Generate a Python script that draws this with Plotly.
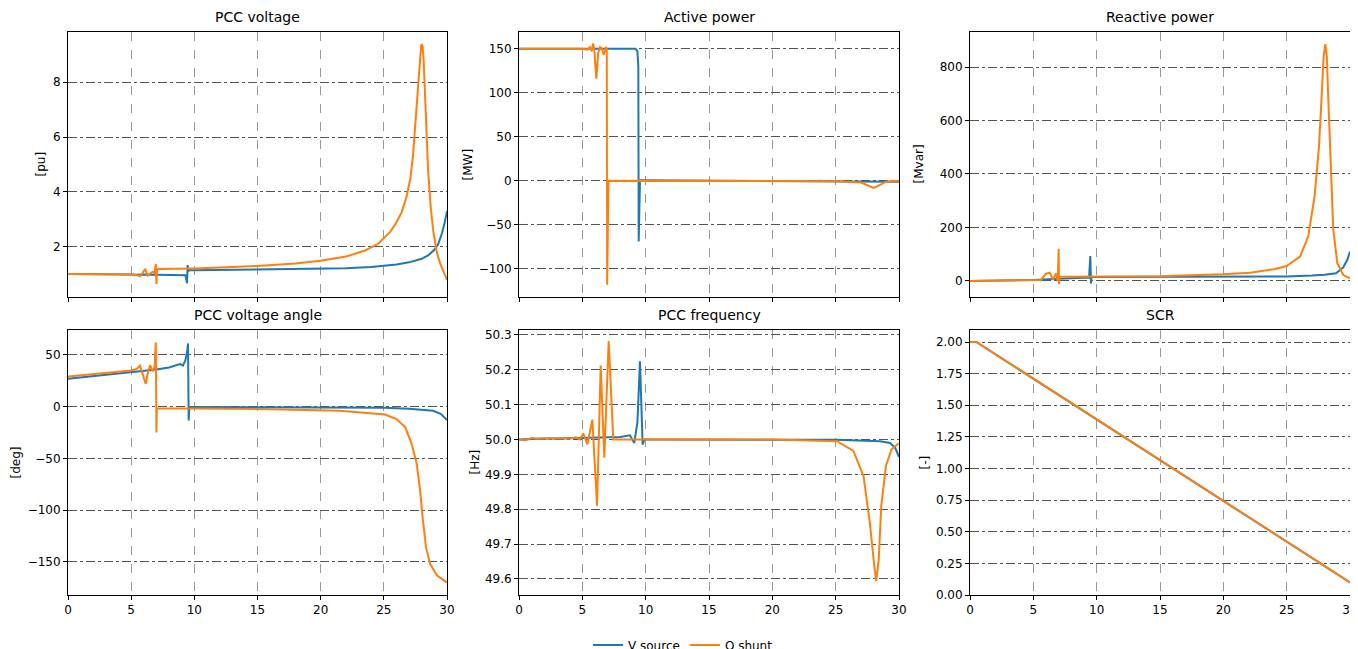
import plotly.graph_objects as go
from plotly.subplots import make_subplots

# ---------------- data ----------------
# PCC voltage [pu]
v_t_vs = [0, 2, 4, 5, 5.5, 6, 7, 8, 9, 9.3, 9.42, 9.47, 9.52, 9.6, 10, 12, 15, 18, 20, 22, 24, 25, 26, 27, 28, 28.5, 29, 29.3, 29.6, 29.8, 30]
v_vs = [1.02, 1.02, 1.01, 1.0, 0.99, 1.0, 0.99, 0.99, 0.98, 0.97, 0.68, 1.34, 1.12, 1.15, 1.15, 1.16, 1.18, 1.2, 1.21, 1.23, 1.27, 1.31, 1.36, 1.44, 1.57, 1.69, 1.9, 2.1, 2.5, 2.85, 3.3]
v_t_qs = [0, 2, 4, 5, 5.5, 5.7, 5.9, 6.1, 6.3, 6.5, 6.7, 6.85, 6.95, 7.0, 7.05, 7.2, 8, 10, 12, 15, 18, 20, 22, 23.5, 24.5, 25, 25.5, 26.0, 26.4, 26.8, 27.1, 27.3, 27.5, 27.7, 27.85, 27.95, 28.0, 28.07, 28.15, 28.27, 28.4, 28.5, 28.7, 28.9, 29.2, 29.45, 30]
v_qs = [1.02, 1.02, 1.01, 1.0, 0.97, 0.93, 1.05, 1.2, 0.96, 1.02, 1.1, 1.05, 1.38, 0.65, 1.18, 1.2, 1.2, 1.22, 1.25, 1.31, 1.4, 1.5, 1.65, 1.87, 2.1, 2.33, 2.55, 2.9, 3.25, 3.83, 4.5, 5.28, 6.5, 8.07, 8.95, 9.3, 9.38, 9.3, 8.8, 7.46, 6.0, 4.8, 3.5, 2.62, 1.8, 1.41, 0.8]

# Active power [MW]
p_t_vs = [0, 5, 9.2, 9.35, 9.42, 9.45, 9.5, 9.55, 9.6, 12, 20, 25, 28, 30]
p_vs = [150, 150, 150, 147, 130, -69, -10, 0, 0.5, 0.3, 0, 0, -0.5, -1]
p_t_qs = [0, 5, 5.4, 5.6, 5.75, 5.85, 5.95, 6.1, 6.25, 6.4, 6.55, 6.7, 6.85, 6.93, 6.96, 7.0, 7.03, 7.06, 7.1, 10, 20, 25, 27, 27.7, 28.0, 28.3, 29, 30]
p_qs = [150, 150, 149, 152, 147, 156, 148, 116, 145, 152, 150, 143, 152, 150, -118, -40, -33, 0, 0, 0, 0, -0.5, -2, -6, -8, -6, -1, 0]

# Reactive power [Mvar]
q_t_vs = [0, 3, 5, 7, 9, 9.4, 9.5, 9.55, 9.6, 10, 15, 20, 25, 27, 28, 28.9, 29.47, 29.8, 30]
q_vs = [0, 1, 4, 8, 12, 13, 93, -9, 15, 15, 16, 16, 17, 20, 23, 29, 51, 80, 110]
q_t_qs = [0, 3, 5, 5.6, 6.0, 6.3, 6.55, 6.8, 6.93, 7.0, 7.03, 7.08, 7.2, 10, 15, 20, 22.1, 24, 25, 26.05, 26.7, 27.2, 27.55, 27.76, 27.92, 28.05, 28.17, 28.28, 28.47, 28.68, 29.0, 29.47, 30]
q_qs = [0, 1, 4, 4, 27, 31, 5, 28, 0, 120, -12, 15, 16, 16, 18, 25, 31, 44, 56, 91, 166, 315, 502, 689, 840, 886, 840, 689, 440, 191, 66, 22, 10]

# PCC voltage angle [deg]
a_t_vs = [0, 2, 4, 5, 6, 7, 8, 8.87, 9.1, 9.3, 9.45, 9.5, 9.55, 9.6, 10, 15, 20, 25, 27, 28, 28.9, 29.5, 30]
a_vs = [26.8, 29.2, 31.6, 33, 34.3, 35.8, 37.8, 41, 39.6, 45, 55, 61, -13.5, -0.5, -0.5, -0.6, -0.7, -1, -2, -3, -4, -7, -13]
a_t_qs = [0, 2, 4, 5, 5.4, 5.7, 5.95, 6.15, 6.35, 6.5, 6.7, 6.85, 6.95, 7.0, 7.03, 7.08, 8, 10, 15, 20, 21.5, 25.1, 26.0, 26.7, 27.2, 27.6, 27.87, 28.07, 28.34, 28.66, 29.2, 30]
a_qs = [29, 31, 33.6, 34.8, 36, 39.6, 30, 22, 34, 40, 34, 38, 62, -25, -2, -1.5, -1.5, -1.8, -2.3, -3, -3.9, -7.7, -12, -20, -36, -55, -81, -107, -136, -152, -163, -170]

# PCC frequency [Hz]
f_t_vs = [0, 1, 2, 3, 4, 5, 6, 7, 8, 8.76, 9.1, 9.35, 9.55, 9.76, 9.9, 12, 20, 25, 28.5, 29.3, 29.7, 30]
f_vs = [50.0, 50.002, 50.003, 50.003, 50.004, 50.006, 50.007, 50.007, 50.007, 50.012, 49.99, 50.05, 50.224, 49.985, 50.0, 50.0, 50.0, 49.999, 49.995, 49.99, 49.976, 49.95]
f_t_qs = [0, 0.5, 1, 1.5, 2, 3, 4, 4.5, 4.8, 5.08, 5.4, 5.79, 6.16, 6.45, 6.73, 7.08, 7.44, 8, 10, 20, 25.1, 26.4, 27.2, 27.7, 28.05, 28.2, 28.4, 28.6, 28.97, 29.4, 29.97]
f_qs = [50.0, 49.998, 50.004, 50.002, 50.003, 50.004, 50.003, 50.006, 50.0, 50.017, 49.986, 50.057, 49.81, 50.212, 49.948, 50.282, 50.0, 50.0, 50.0, 50.0, 49.995, 49.967, 49.895, 49.76, 49.637, 49.594, 49.656, 49.81, 49.924, 49.971, 49.989]

# SCR [-]
s_t = [0, 0.5, 30]
s_vs = [2.0, 2.0, 0.1]
s_qs = [2.0, 2.0, 0.1]

titles = ["PCC voltage", "Active power", "Reactive power", "PCC voltage angle", "PCC frequency", "SCR"]
ylabels = ["[pu]", "[MW]", "[Mvar]", "[deg]", "[Hz]", "[-]"]
series_names = ["V source", "Q shunt"]

# ---------------- figure ----------------
BLUE = "#1f77b4"
ORANGE = "#ff7f0e"
OFF = 8  # page body margin
W, H = 1358 - OFF, 649 - OFF
FONT = "DejaVu Sans"

fig = make_subplots(rows=2, cols=3)

panels = [
    (1, 1, v_t_vs, v_vs, v_t_qs, v_qs),
    (1, 2, p_t_vs, p_vs, p_t_qs, p_qs),
    (1, 3, q_t_vs, q_vs, q_t_qs, q_qs),
    (2, 1, a_t_vs, a_vs, a_t_qs, a_qs),
    (2, 2, f_t_vs, f_vs, f_t_qs, f_qs),
    (2, 3, s_t, s_vs, s_t, s_qs),
]
for i, (r, c, tb, yb, to, yo) in enumerate(panels):
    fig.add_trace(go.Scatter(x=tb, y=yb, mode="lines", line=dict(color=BLUE, width=2),
                             name=series_names[0], legendgroup="a", showlegend=(i == 0)), row=r, col=c)
    fig.add_trace(go.Scatter(x=to, y=yo, mode="lines", line=dict(color=ORANGE, width=2),
                             name=series_names[1], legendgroup="b", showlegend=(i == 0)), row=r, col=c)

# pixel boxes in window coordinates
xpx = [(68, 447), (519, 899), (970, 1350)]
ypx = [(32, 297), (330, 595)]
yranges = [[0.18, 9.82], [-132, 169], [-60, 931], [-182, 74], [49.554, 50.314], [0.0, 2.095]]
ydticks = [2, 50, 200, 50, 0.1, 0.25]
ytick0 = [0, 0, 0, 0, 49.6, 0.25]
yfmts = ["", "", "", "", ".1f", ".2f"]
ylabel_x = [40, 467, 918, 15, 474, 924]


def px_x(p):
    return (p - OFF) / W


def px_y(p):
    return 1 - (p - OFF) / H


annotations = []
for k in range(6):
    r, c = k // 3, k % 3
    axn = "" if k == 0 else str(k + 1)
    x0, x1 = xpx[c]
    y0, y1 = ypx[r]
    fig.layout["xaxis" + axn].update(
        domain=[px_x(x0), px_x(x1)], range=[0, 30], dtick=5, tick0=0,
        showline=True, mirror=True, linecolor="black", linewidth=1,
        ticks="outside", ticklen=4, tickcolor="black", ticklabeloverflow="allow",
        showticklabels=(r == 1), tickfont=dict(family=FONT, size=12, color="black"),
        showgrid=True, gridcolor="#999999", griddash="dash", gridwidth=1, zeroline=False)
    fig.layout["yaxis" + axn].update(
        domain=[px_y(y1), px_y(y0)], range=yranges[k], dtick=ydticks[k], tick0=ytick0[k],
        tickformat=yfmts[k],
        showline=True, mirror=True, linecolor="black", linewidth=1,
        ticks="outside", ticklen=4, tickcolor="black",
        tickfont=dict(family=FONT, size=12, color="black"),
        showgrid=True, gridcolor="#555555", griddash="dashdot", gridwidth=0.8, zeroline=False)
    annotations.append(dict(text=titles[k], x=(px_x(x0) + px_x(x1)) / 2, y=px_y(y0 - 5),
                            xref="paper", yref="paper", xanchor="center", yanchor="bottom",
                            showarrow=False, font=dict(family=FONT, size=14, color="black")))
    annotations.append(dict(text=ylabels[k], x=px_x(ylabel_x[k]), y=px_y((y0 + y1) / 2),
                            xref="paper", yref="paper", xanchor="center", yanchor="middle",
                            textangle=-90, showarrow=False,
                            font=dict(family=FONT, size=12, color="black")))

fig.update_layout(
    width=W, height=H,
    margin=dict(l=0, r=0, t=0, b=0, autoexpand=False),
    paper_bgcolor="white", plot_bgcolor="white",
    annotations=annotations,
    legend=dict(orientation="h", x=px_x(683), xanchor="center", y=px_y(645), yanchor="middle",
                font=dict(family=FONT, size=12, color="black"), bgcolor="rgba(0,0,0,0)",
                itemwidth=30, tracegroupgap=0),
    showlegend=True,
)

fig.write_html("out.html")
